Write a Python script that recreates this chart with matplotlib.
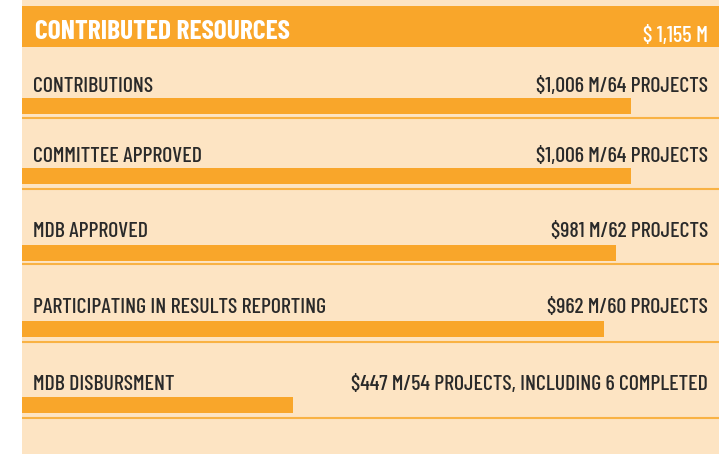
import matplotlib
matplotlib.use("Agg")
import matplotlib.pyplot as plt
from matplotlib import font_manager

# data
title = "CONTRIBUTED RESOURCES"
total = 1155
total_label = "$ 1,155 M"
stages = ["CONTRIBUTIONS", "COMMITTEE APPROVED", "MDB APPROVED",
          "PARTICIPATING IN RESULTS REPORTING", "MDB DISBURSMENT"]
amounts = [1006, 1006, 981, 962, 447]
notes = ["$1,006 M/64 PROJECTS", "$1,006 M/64 PROJECTS", "$981 M/62 PROJECTS",
         "$962 M/60 PROJECTS", "$447 M/54 PROJECTS, INCLUDING 6 COMPLETED"]

orange = "#F9A62A"
peach = "#FDE4C3"
line_col = "#F9B244"
ink = "#2A2A2A"

names = {f.name for f in font_manager.fontManager.ttflist}
narrow = "DejaVu Sans"
for cand in ["Barlow Condensed", "Roboto Condensed", "Archivo Narrow",
             "Sofia Sans Condensed", "Asap Condensed"]:
    if cand in names:
        narrow = cand
        break
scale = 1.0 if narrow != "DejaVu Sans" else 0.72

W, H = 719, 454
fig = plt.figure(figsize=(W / 100, H / 100), dpi=100, facecolor="white")
x0 = 22
ax = fig.add_axes([x0 / W, 0, 1 - x0 / W, 1])
ax.set_xlim(0, total * (W - x0) / 699)
ax.set_ylim(H, 0)
ax.axis("off")
ax.add_patch(plt.Rectangle((0, 0), 1, 1, transform=ax.transAxes, color=peach, zorder=0))

# header band = total
ax.barh(26.5, total, height=41, left=0, color=orange, zorder=2)
fig.text(35 / W, 1 - 39 / H, title, color="white", fontsize=19.8 * scale, fontweight="bold",
         family=narrow, va="baseline", ha="left")
fig.text(708 / W, 1 - 41.5 / H, total_label, color="white", fontsize=16 * scale,
         family=narrow, fontweight="medium", va="baseline", ha="right")

label_base = [91.7, 161.7, 237.3, 313.3, 390]
bar_y = [105.5, 176, 253, 329, 405]
sep_y = [118, 189, 264, 342, 418]

for i, (s, a, n) in enumerate(zip(stages, amounts, notes)):
    ax.barh(bar_y[i], a, height=16, left=0, color=orange, zorder=2)
    ax.axhline(sep_y[i], color=line_col, lw=1.5, zorder=1)
    fig.text(33 / W, 1 - label_base[i] / H, s, color=ink, fontsize=15.7 * scale,
             family=narrow, fontweight="medium", va="baseline", ha="left")
    fig.text(708 / W, 1 - label_base[i] / H, n, color=ink, fontsize=15.7 * scale,
             family=narrow, fontweight="medium", va="baseline", ha="right")

fig.savefig("out.png", dpi=100, facecolor="white")
